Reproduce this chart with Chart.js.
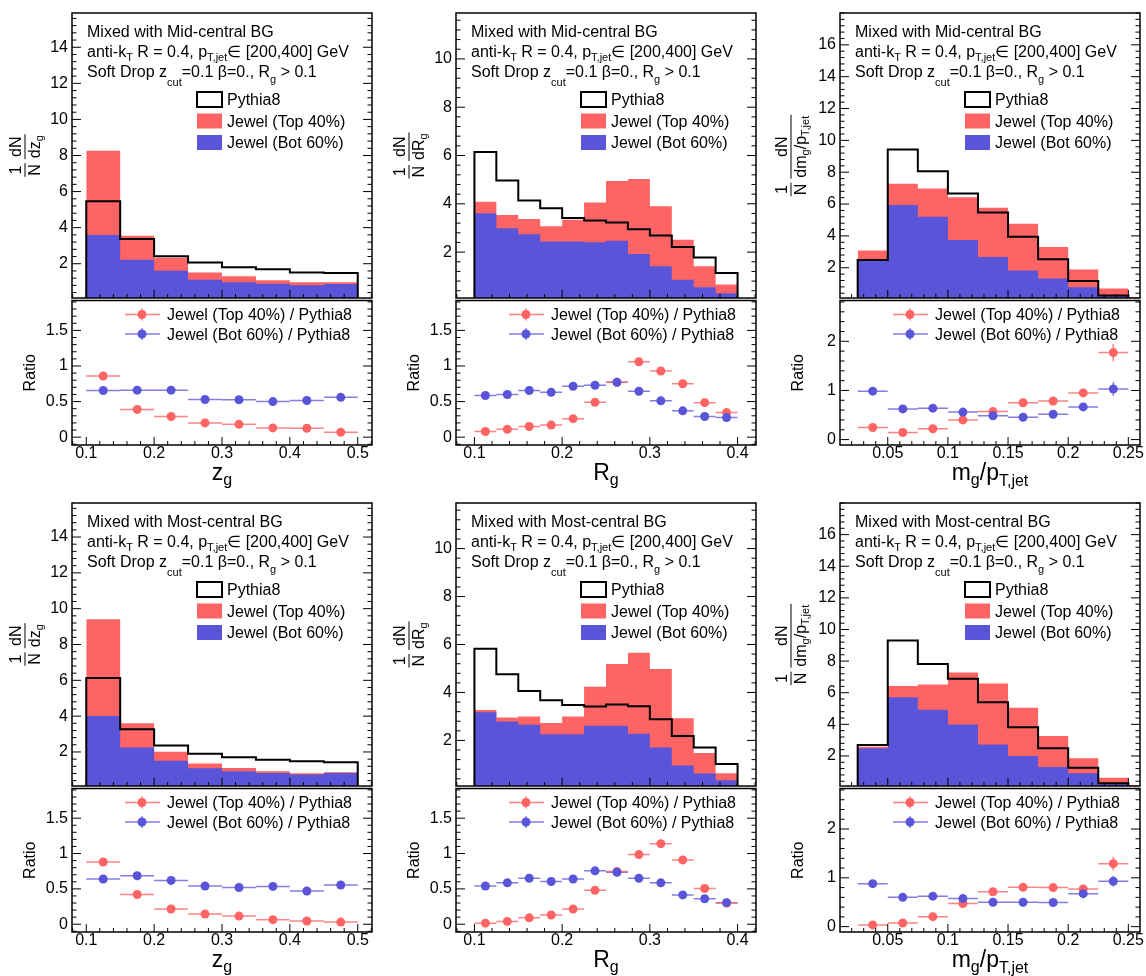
<!DOCTYPE html>
<html>
<head>
<meta charset="utf-8">
<script src="https://cdn.jsdelivr.net/npm/chart.js@4.4.0/dist/chart.umd.min.js"></script>
<style>
  html, body { margin: 0; padding: 0; background: #fff; }
  #page { position: relative; width: 1146px; height: 976px; overflow: hidden; }
  #page canvas { position: absolute; }
</style>
</head>
<body>
<div id="page"></div>
<script>
// ---- bin edges and tick labels ----
const zgEdges = [0.10, 0.15, 0.20, 0.25, 0.30, 0.35, 0.40, 0.45, 0.50];
const rgEdges = [0.100, 0.125, 0.150, 0.175, 0.200, 0.225, 0.250, 0.275, 0.300, 0.325, 0.350, 0.375, 0.400];
const mgEdges = [0.025, 0.050, 0.075, 0.100, 0.125, 0.150, 0.175, 0.200, 0.225, 0.250, 0.275];

const zgTicks = [0.1, 0.2, 0.3, 0.4, 0.5];
const rgTicks = [0.1, 0.2, 0.3, 0.4];
const mgTicks = [0.05, 0.1, 0.15, 0.2, 0.25];
const zgYTicks = [2, 4, 6, 8, 10, 12, 14];
const rgYTicks = [2, 4, 6, 8, 10];
const mgYTicks = [2, 4, 6, 8, 10, 12, 14, 16];
const ratioTicks = [0, 0.5, 1, 1.5];
const ratioTicksMg = [0, 1, 2];

// ---- Mixed with Mid-central BG ----
const midZgPythia = [5.46, 3.37, 2.41, 2.07, 1.80, 1.70, 1.52, 1.48];
const midZgTop    = [4.67, 1.33, 0.72, 0.41, 0.33, 0.20, 0.17, 0.09];
const midZgBot    = [3.59, 2.22, 1.61, 1.11, 0.97, 0.89, 0.81, 0.88];
const midZgRatioTop = [0.86, 0.39, 0.29, 0.20, 0.18, 0.13, 0.125, 0.07];
const midZgRatioBot = [0.655, 0.66, 0.66, 0.53, 0.525, 0.50, 0.515, 0.56];

const midRgPythia = [6.14, 4.97, 4.14, 3.82, 3.41, 3.31, 3.23, 2.95, 2.69, 2.21, 1.78, 1.13];
const midRgTop    = [0.47, 0.55, 0.63, 0.63, 0.90, 1.64, 2.47, 3.11, 2.49, 1.65, 0.86, 0.36];
const midRgBot    = [3.61, 2.99, 2.74, 2.44, 2.44, 2.41, 2.47, 1.92, 1.41, 0.86, 0.55, 0.30];
const midRgRatioTop = [0.08, 0.11, 0.15, 0.17, 0.26, 0.49, 0.77, 1.06, 0.93, 0.75, 0.485, 0.345];
const midRgRatioBot = [0.585, 0.60, 0.655, 0.63, 0.715, 0.73, 0.77, 0.645, 0.51, 0.37, 0.29, 0.275];

const midMgPythia = [2.48, 9.43, 8.06, 6.67, 5.47, 3.94, 2.53, 1.16, 0.25];
const midMgTop    = [0.61, 1.34, 1.78, 2.67, 3.10, 2.93, 1.98, 1.11, 0.44, 0.12];
const midMgBot    = [2.48, 5.94, 5.20, 3.75, 2.67, 1.83, 1.33, 0.78, 0.26, 0.05];
const midMgRatioTop = [0.245, 0.145, 0.22, 0.40, 0.57, 0.75, 0.785, 0.95, 1.77];
const midMgRatioBot = [0.985, 0.625, 0.64, 0.56, 0.485, 0.455, 0.515, 0.665, 1.03];
const midMgRatioTopErr = [0.02, 0.02, 0.02, 0.02, 0.03, 0.03, 0.04, 0.05, 0.18];
const midMgRatioBotErr = [0.02, 0.02, 0.02, 0.02, 0.02, 0.03, 0.03, 0.05, 0.14];

// ---- Mixed with Most-central BG ----
const mostZgPythia = [6.13, 3.27, 2.36, 1.90, 1.70, 1.57, 1.48, 1.42];
const mostZgTop    = [5.40, 1.36, 0.50, 0.27, 0.19, 0.10, 0.07, 0.04];
const mostZgBot    = [4.01, 2.25, 1.51, 1.09, 0.92, 0.83, 0.74, 0.83];
const mostZgRatioTop = [0.88, 0.42, 0.215, 0.145, 0.115, 0.065, 0.045, 0.03];
const mostZgRatioBot = [0.64, 0.685, 0.62, 0.54, 0.52, 0.535, 0.47, 0.555];

const mostRgPythia = [5.82, 4.76, 4.06, 3.68, 3.48, 3.41, 3.50, 3.43, 2.88, 2.19, 1.71, 1.02];
const mostRgTop    = [0.10, 0.17, 0.35, 0.47, 0.74, 1.63, 2.58, 3.38, 3.27, 1.98, 0.86, 0.29];
const mostRgBot    = [3.17, 2.79, 2.65, 2.26, 2.26, 2.61, 2.61, 2.28, 1.71, 0.95, 0.62, 0.34];
const mostRgRatioTop = [0.015, 0.04, 0.09, 0.13, 0.215, 0.48, 0.745, 0.985, 1.14, 0.91, 0.505, 0.30];
const mostRgRatioBot = [0.54, 0.585, 0.65, 0.605, 0.64, 0.755, 0.735, 0.65, 0.585, 0.415, 0.36, 0.305];

const mostMgPythia = [2.69, 9.30, 7.81, 6.89, 5.39, 3.82, 2.48, 1.26, 0.28];
const mostMgTop    = [0.10, 0.72, 1.59, 3.29, 3.85, 3.06, 1.96, 0.96, 0.36, 0.10];
const mostMgBot    = [2.48, 5.71, 4.93, 3.99, 2.73, 1.99, 1.30, 0.90, 0.26, 0.05];
const mostMgRatioTop = [0.035, 0.075, 0.205, 0.475, 0.715, 0.805, 0.80, 0.77, 1.29];
const mostMgRatioBot = [0.88, 0.60, 0.625, 0.575, 0.50, 0.50, 0.495, 0.675, 0.93];
const mostMgRatioTopErr = [0.01, 0.01, 0.02, 0.02, 0.03, 0.03, 0.04, 0.05, 0.14];
const mostMgRatioBotErr = [0.02, 0.02, 0.02, 0.02, 0.02, 0.03, 0.03, 0.05, 0.11];

// ---- look ----
const FONT = "'Liberation Sans', Arial, 'DejaVu Sans', sans-serif";
const RED = '#ff6464', BLUE = '#5954d8';
const RED_ERR = 'rgba(255,100,100,0.8)', BLUE_ERR = 'rgba(89,84,216,0.75)';

Chart.defaults.font.family = FONT;
Chart.defaults.font.size = 16;
Chart.defaults.color = '#000';

// pad frames in page pixels
const colBox = [[72, 372], [456, 756], [840, 1140]];
const rowBox = [[13, 298, 445], [503, 786, 932]];

const vars = {
  zg: { edges: zgEdges, xMin: 0.079, xMax: 0.521, xTicks: zgTicks, xMinor: 0.02,
        yMin: 0.1, yMax: 15.9, yTicks: zgYTicks, rMax: 1.92, rTicks: ratioTicks, rMinor: 0.1, titleOff: 47,
        xTitle: [['z', 23, 0], ['g', 16, 5]],
        yDen: [['dz', 16, 0], ['g', 11, 3]] },
  rg: { edges: rgEdges, xMin: 0.079, xMax: 0.421, xTicks: rgTicks, xMinor: 0.02,
        yMin: 0.1, yMax: 11.9, yTicks: rgYTicks, rMax: 1.92, rTicks: ratioTicks, rMinor: 0.1, titleOff: 47,
        xTitle: [['R', 23, 0], ['g', 16, 5]],
        yDen: [['dR', 16, 0], ['g', 11, 3]] },
  mg: { edges: mgEdges, xMin: 0.0103, xMax: 0.2597, xTicks: mgTicks, xMinor: 0.01,
        yMin: 0.1, yMax: 18.0, yTicks: mgYTicks, rMax: 2.83, rTicks: ratioTicksMg, rMinor: 0.2, titleOff: 49,
        xTitle: [['m', 23, 0], ['g', 16, 5], ['/p', 23, 0], ['T,jet', 16, 6]],
        yDen: [['dm', 16, 0], ['g', 11, 3], ['/p', 16, 0], ['T,jet', 11, 3]] }
};

const panels = [
  { row: 0, col: 0, v: 'zg', bg: 'Mid-central', pythia: midZgPythia, top: midZgTop, bot: midZgBot, rTop: midZgRatioTop, rBot: midZgRatioBot },
  { row: 0, col: 1, v: 'rg', bg: 'Mid-central', pythia: midRgPythia, top: midRgTop, bot: midRgBot, rTop: midRgRatioTop, rBot: midRgRatioBot },
  { row: 0, col: 2, v: 'mg', bg: 'Mid-central', pythia: midMgPythia, top: midMgTop, bot: midMgBot, rTop: midMgRatioTop, rBot: midMgRatioBot, rTopErr: midMgRatioTopErr, rBotErr: midMgRatioBotErr },
  { row: 1, col: 0, v: 'zg', bg: 'Most-central', pythia: mostZgPythia, top: mostZgTop, bot: mostZgBot, rTop: mostZgRatioTop, rBot: mostZgRatioBot },
  { row: 1, col: 1, v: 'rg', bg: 'Most-central', pythia: mostRgPythia, top: mostRgTop, bot: mostRgBot, rTop: mostRgRatioTop, rBot: mostRgRatioBot },
  { row: 1, col: 2, v: 'mg', bg: 'Most-central', pythia: mostMgPythia, top: mostMgTop, bot: mostMgBot, rTop: mostMgRatioTop, rBot: mostMgRatioBot, rTopErr: mostMgRatioTopErr, rBotErr: mostMgRatioBotErr }
];

// ---- helpers ----
function font(px) { return px + 'px ' + FONT; }

function runsWidth(ctx, runs) {
  let w = 0;
  runs.forEach(([t, s]) => { ctx.font = font(s); w += ctx.measureText(t).width; });
  return w;
}
function drawRuns(ctx, x, y, runs) {
  runs.forEach(([t, s, dy]) => {
    ctx.font = font(s);
    ctx.fillText(t, x, y + (dy || 0));
    x += ctx.measureText(t).width;
  });
  return x;
}

// histogram as step points (value i holds from edge i to edge i+1)
function steps(edges, vals) {
  const pts = vals.map((v, i) => ({ x: edges[i], y: v }));
  pts.push({ x: edges[vals.length], y: vals[vals.length - 1] });
  return pts;
}
function outline(edges, vals) {
  return [{ x: edges[0], y: 0 }].concat(steps(edges, vals), [{ x: edges[vals.length], y: 0 }]);
}

function tickVals(min, max, step) {
  const out = [];
  for (let k = Math.ceil(min / step - 1e-6); k * step <= max + 1e-9; k++) out.push(+(k * step).toFixed(6));
  return out;
}
function drawTicks(ctx, scale, a, axis, majors, minorStep, lenMaj, lenMin) {
  ctx.beginPath();
  tickVals(scale.min, scale.max, minorStep).forEach(v => {
    const len = majors.some(m => Math.abs(m - v) < minorStep / 10) ? lenMaj : lenMin;
    const p = scale.getPixelForValue(v);
    if (axis === 'y') {
      ctx.moveTo(a.left, p); ctx.lineTo(a.left + len, p);
      ctx.moveTo(a.right, p); ctx.lineTo(a.right - len, p);
    } else {
      ctx.moveTo(p, a.bottom); ctx.lineTo(p, a.bottom - len);
    }
  });
  ctx.stroke();
}

function drawYTitle(ctx, cx, cy, fracs) {
  ctx.save();
  ctx.translate(cx, cy);
  ctx.rotate(-Math.PI / 2);
  const items = fracs.map(f => ({ f, wn: runsWidth(ctx, f.num), wd: runsWidth(ctx, f.den) }));
  const gap = 4;
  let total = gap * (items.length - 1);
  items.forEach(it => { it.w = Math.max(it.wn, it.wd) + 2; total += it.w; });
  let x = -total / 2;
  ctx.lineWidth = 1;
  items.forEach(it => {
    drawRuns(ctx, x + (it.w - it.wn) / 2, -4, it.f.num);
    drawRuns(ctx, x + (it.w - it.wd) / 2, 15, it.f.den);
    ctx.beginPath(); ctx.moveTo(x, 0); ctx.lineTo(x + it.w, 0); ctx.stroke();
    x += it.w + gap;
  });
  ctx.restore();
}

// ROOT-like decorations: inward ticks, frame, texts, legends, error bars
const rootPad = {
  id: 'rootPad',
  beforeDatasetsDraw(chart, args, o) {
    if (o.kind !== 'ratio') return;
    const ctx = chart.ctx, a = chart.chartArea, xs = chart.scales.x, ys = chart.scales.y;
    ctx.save();
    ctx.beginPath(); ctx.rect(a.left, a.top, a.right - a.left, a.bottom - a.top); ctx.clip();
    ctx.lineWidth = 1.5;
    chart.data.datasets.forEach(ds => {
      ctx.strokeStyle = ds.errColor;
      ctx.beginPath();
      ds.data.forEach((pt, i) => {
        const px = xs.getPixelForValue(pt.x), py = ys.getPixelForValue(pt.y);
        ctx.moveTo(xs.getPixelForValue(pt.x - ds.errX[i]), py);
        ctx.lineTo(xs.getPixelForValue(pt.x + ds.errX[i]), py);
        const e = ds.errY ? ds.errY[i] : 0.02;
        ctx.moveTo(px, ys.getPixelForValue(pt.y - e));
        ctx.lineTo(px, ys.getPixelForValue(pt.y + e));
      });
      ctx.stroke();
    });
    ctx.restore();
  },
  afterDatasetsDraw(chart, args, o) {
    const ctx = chart.ctx, a = chart.chartArea, xs = chart.scales.x, ys = chart.scales.y;
    const V = o.V;
    ctx.save();
    ctx.strokeStyle = '#000'; ctx.fillStyle = '#000';
    ctx.textAlign = 'left'; ctx.textBaseline = 'alphabetic';
    ctx.lineWidth = 1;
    if (o.kind === 'top') {
      drawTicks(ctx, ys, a, 'y', V.yTicks, 0.4, 9, 4.5);
    } else {
      drawTicks(ctx, ys, a, 'y', V.rTicks, V.rMinor, 9, 4.5);
    }
    drawTicks(ctx, xs, a, 'x', V.xTicks, V.xMinor, 8, 4);
    ctx.lineWidth = 1.5;
    ctx.strokeRect(a.left, a.top, a.right - a.left, a.bottom - a.top);

    if (o.kind === 'top') {
      const x0 = a.left + 15;
      drawRuns(ctx, x0, a.top + 23.5, [['Mixed with ' + o.bg + ' BG', 16, 0]]);
      drawRuns(ctx, x0, a.top + 43.5, [['anti-k', 16, 0], ['T', 11, 4], [' R = 0.4, p', 16, 0], ['T,jet', 11, 4], ['\u2208 [200,400] GeV', 16, 0]]);
      drawRuns(ctx, x0, a.top + 64, [['Soft Drop z', 16, 0], ['cut', 11, 9], ['=0.1 \u03b2=0., R', 16, 0], ['g', 11, 6], [' > 0.1', 16, 0]]);
      const bx = a.left + 125;
      const rows = [[null, 'Pythia8', 86.5], [RED, 'Jewel (Top 40%)', 108], [BLUE, 'Jewel (Bot 60%)', 129.5]];
      rows.forEach(([c, txt, dy]) => {
        const cy = a.top + dy;
        if (c) { ctx.fillStyle = c; ctx.fillRect(bx, cy - 7.5, 25, 15); }
        else { ctx.lineWidth = 2; ctx.strokeRect(bx, cy - 7.5, 25, 15); }
        ctx.fillStyle = '#000';
        ctx.font = font(16);
        ctx.fillText(txt, bx + 30, cy + 5.5);
      });
      drawYTitle(ctx, a.left - V.titleOff, (a.top + a.bottom) / 2, [
        { num: [['1', 16, 0]], den: [['N', 16, 0]] },
        { num: [['dN', 16, 0]], den: V.yDen }
      ]);
    } else {
      const lx = a.left + 70;
      [[RED, RED_ERR, 'Jewel (Top 40%) / Pythia8', 14], [BLUE, BLUE_ERR, 'Jewel (Bot 60%) / Pythia8', 33.5]].forEach(([c, ce, txt, dy]) => {
        const y = a.top + dy;
        ctx.strokeStyle = ce; ctx.lineWidth = 1.5;
        ctx.beginPath();
        ctx.moveTo(a.left + 53, y); ctx.lineTo(a.left + 88, y);
        ctx.moveTo(lx, y - 6); ctx.lineTo(lx, y + 6);
        ctx.stroke();
        ctx.fillStyle = c;
        ctx.beginPath(); ctx.arc(lx, y, 4.5, 0, 2 * Math.PI); ctx.fill();
        ctx.fillStyle = '#000';
        ctx.font = font(16);
        ctx.fillText(txt, a.left + 95, y + 5.6);
      });
      // y title
      ctx.save();
      ctx.translate(a.left - 37, (a.top + a.bottom) / 2);
      ctx.rotate(-Math.PI / 2);
      ctx.textAlign = 'center';
      ctx.font = font(16);
      ctx.fillText('Ratio', 0, 0);
      ctx.restore();
      // x title
      const w = runsWidth(ctx, V.xTitle);
      drawRuns(ctx, (a.left + a.right) / 2 - w / 2, a.bottom + 35, V.xTitle);
    }
    ctx.restore();
  }
};

function makeCanvas(left, top, w, h) {
  const c = document.createElement('canvas');
  c.width = w; c.height = h;
  c.style.left = left + 'px'; c.style.top = top + 'px';
  c.style.width = w + 'px'; c.style.height = h + 'px';
  document.getElementById('page').appendChild(c);
  return c;
}

function fixY(width, ticks) {
  return {
    afterFit: s => { s.width = width; s.paddingTop = 0; s.paddingBottom = 0; },
    afterBuildTicks: s => { s.ticks = ticks.map(v => ({ value: v })); },
    grid: { display: false, drawTicks: false },
    border: { display: false },
    ticks: { padding: 4, autoSkip: false, font: { size: 16 }, callback: v => String(v) }
  };
}

panels.forEach(p => {
  const V = vars[p.v];
  const [l, r] = colBox[p.col];
  const [t, m, b] = rowBox[p.row];
  const W = Math.round(r - l) + 76;

  // upper pad: stacked Jewel histograms + Pythia outline
  new Chart(makeCanvas(l - 70, t - 2, W, (m - t) + 4), {
    type: 'line',
    data: {
      datasets: [
        { label: 'Pythia8', data: outline(V.edges, p.pythia), stack: 'pythia', stepped: true,
          borderColor: '#000', borderWidth: 2, fill: false, pointRadius: 0 },
        { label: 'Jewel (Bot 60%)', data: steps(V.edges, p.bot), stack: 'jewel', stepped: true,
          borderColor: 'rgba(0,0,0,0)', borderWidth: 1, backgroundColor: BLUE, fill: 'origin', pointRadius: 0 },
        { label: 'Jewel (Top 40%)', data: steps(V.edges, p.top), stack: 'jewel', stepped: true,
          borderColor: 'rgba(0,0,0,0)', borderWidth: 1, backgroundColor: RED, fill: 'origin', pointRadius: 0 }
      ]
    },
    options: {
      responsive: false, animation: false, devicePixelRatio: 1,
      layout: { padding: { left: 0, right: 6, top: 2, bottom: 2 } },
      plugins: { legend: { display: false }, tooltip: { enabled: false },
                 rootPad: { kind: 'top', V, bg: p.bg } },
      scales: {
        x: { type: 'linear', min: V.xMin, max: V.xMax, display: false },
        y: Object.assign({ type: 'linear', min: V.yMin, max: V.yMax, stacked: true }, fixY(70, V.yTicks))
      }
    },
    plugins: [rootPad]
  });

  // ratio pad
  const n = p.rTop.length;
  const centers = V.edges.slice(0, n).map((e, i) => (e + V.edges[i + 1]) / 2);
  const halfW = V.edges.slice(0, n).map((e, i) => (V.edges[i + 1] - e) / 2);
  new Chart(makeCanvas(l - 70, m - 2, W, (b - m) + 2 + 52), {
    type: 'scatter',
    data: {
      datasets: [
        { label: 'Jewel (Bot 60%) / Pythia8', data: centers.map((x, i) => ({ x, y: p.rBot[i] })),
          errX: halfW, errY: p.rBotErr, errColor: BLUE_ERR,
          pointRadius: 4.5, pointBackgroundColor: BLUE, pointBorderColor: 'rgba(0,0,0,0)', pointBorderWidth: 0 },
        { label: 'Jewel (Top 40%) / Pythia8', data: centers.map((x, i) => ({ x, y: p.rTop[i] })),
          errX: halfW, errY: p.rTopErr, errColor: RED_ERR,
          pointRadius: 4.5, pointBackgroundColor: RED, pointBorderColor: 'rgba(0,0,0,0)', pointBorderWidth: 0 }
      ]
    },
    options: {
      responsive: false, animation: false, devicePixelRatio: 1,
      layout: { padding: { left: 0, right: 6, top: 2, bottom: 0 } },
      plugins: { legend: { display: false }, tooltip: { enabled: false },
                 rootPad: { kind: 'ratio', V } },
      scales: {
        x: {
          type: 'linear', min: V.xMin, max: V.xMax,
          afterFit: s => { s.height = 52; s.paddingLeft = 0; s.paddingRight = 0; },
          afterBuildTicks: s => { s.ticks = V.xTicks.map(v => ({ value: v })); },
          grid: { display: false, drawTicks: false },
          border: { display: false },
          ticks: { padding: -1, autoSkip: false, maxRotation: 0, font: { size: 16 }, callback: v => String(v) }
        },
        y: Object.assign({ type: 'linear', min: -0.11, max: V.rMax }, fixY(70, V.rTicks))
      }
    },
    plugins: [rootPad]
  });
});
</script>
</body>
</html>
